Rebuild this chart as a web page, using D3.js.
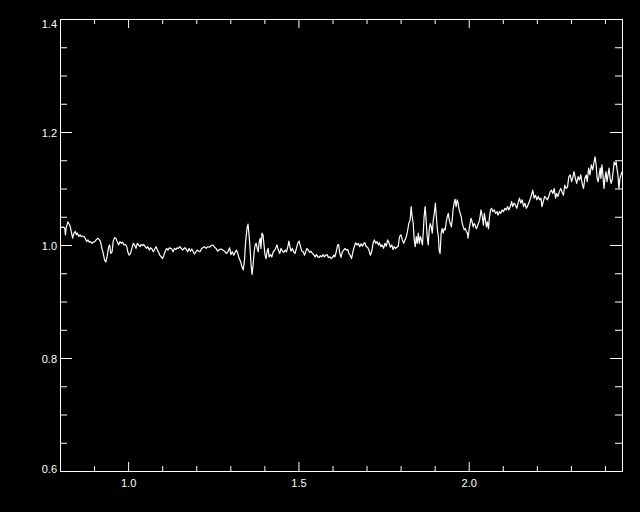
<!DOCTYPE html>
<html>
<head>
<meta charset="utf-8">
<script src="https://cdn.jsdelivr.net/npm/d3@7"></script>
<style>
  html, body { margin: 0; padding: 0; background: #000; }
  svg { display: block; background: #000; }
</style>
</head>
<body>
<svg id="svg" width="640" height="512"></svg>
<script>
// spectrum
const wavelength = [
  0.800, 0.804, 0.809, 0.814, 0.816, 0.818, 0.823, 0.829, 0.833, 0.837, 0.841, 0.845, 0.848, 0.851, 0.855, 0.859,
  0.862, 0.867, 0.870, 0.874, 0.878, 0.882, 0.886, 0.890, 0.894, 0.898, 0.902, 0.906, 0.911, 0.915, 0.919, 0.923,
  0.927, 0.931, 0.935, 0.939, 0.943, 0.946, 0.949, 0.953, 0.956, 0.960, 0.964, 0.968, 0.972, 0.976, 0.980, 0.984,
  0.988, 0.992, 0.996, 0.999, 1.003, 1.007, 1.011, 1.015, 1.019, 1.023, 1.027, 1.031, 1.035, 1.038, 1.043, 1.046,
  1.050, 1.054, 1.058, 1.062, 1.066, 1.070, 1.074, 1.078, 1.082, 1.086, 1.089, 1.093, 1.097, 1.101, 1.105, 1.109,
  1.113, 1.117, 1.121, 1.125, 1.128, 1.132, 1.136, 1.140, 1.144, 1.148, 1.152, 1.156, 1.160, 1.164, 1.168, 1.172,
  1.175, 1.179, 1.183, 1.187, 1.191, 1.195, 1.199, 1.203, 1.207, 1.211,
  1.215, 1.219, 1.224, 1.229, 1.234, 1.239, 1.244, 1.249, 1.254, 1.258, 1.263, 1.268, 1.273, 1.278, 1.283, 1.288,
  1.293, 1.298, 1.302, 1.306, 1.310, 1.314, 1.318, 1.322, 1.326, 1.330, 1.334, 1.338, 1.342, 1.345, 1.349, 1.352,
  1.355, 1.358, 1.361, 1.364, 1.367, 1.370, 1.373, 1.376, 1.379, 1.382, 1.385, 1.388, 1.390, 1.393, 1.396, 1.399,
  1.402, 1.405, 1.408, 1.411, 1.414, 1.418, 1.422, 1.426, 1.430, 1.433, 1.437, 1.441, 1.445, 1.449, 1.453, 1.457,
  1.461, 1.465, 1.469, 1.472, 1.475, 1.478, 1.482, 1.486, 1.490, 1.494, 1.498, 1.502, 1.506, 1.510, 1.514, 1.518,
  1.521, 1.525, 1.529, 1.533, 1.537, 1.541, 1.545, 1.549, 1.553, 1.557, 1.561, 1.564, 1.568, 1.572, 1.576, 1.580,
  1.584, 1.588, 1.592, 1.596, 1.600, 1.604, 1.607, 1.611, 1.615, 1.618, 1.621, 1.625,
  1.629, 1.633, 1.637, 1.641, 1.645, 1.648, 1.652, 1.656, 1.660, 1.664, 1.668, 1.672, 1.676, 1.680, 1.684, 1.688,
  1.692, 1.695, 1.699, 1.703, 1.707, 1.711, 1.715, 1.719, 1.723, 1.727, 1.731, 1.735, 1.738, 1.742, 1.746, 1.750,
  1.754, 1.758, 1.762, 1.766, 1.770, 1.774, 1.778, 1.781, 1.785, 1.789, 1.793, 1.797, 1.801, 1.805, 1.809, 1.813,
  1.817, 1.821, 1.824, 1.828, 1.831, 1.834, 1.837, 1.840, 1.843, 1.846, 1.849, 1.852, 1.855, 1.858, 1.861, 1.864,
  1.867, 1.869, 1.872, 1.875, 1.878, 1.881, 1.884, 1.887, 1.890, 1.893, 1.896, 1.899, 1.902, 1.905, 1.908, 1.911,
  1.913, 1.916, 1.919, 1.922, 1.925, 1.928, 1.931, 1.934, 1.937, 1.940, 1.943, 1.946, 1.949, 1.952, 1.954, 1.957,
  1.960, 1.963, 1.966, 1.969, 1.972, 1.975, 1.978, 1.981, 1.984, 1.987, 1.990, 1.993, 1.996, 1.998, 2.001, 2.004,
  2.007, 2.010, 2.013, 2.016, 2.019, 2.022, 2.025, 2.028, 2.032, 2.036,
  2.040, 2.043, 2.046, 2.049, 2.052, 2.055, 2.058, 2.061, 2.064, 2.067, 2.071, 2.075, 2.079, 2.083, 2.086, 2.090,
  2.094, 2.098, 2.102, 2.106, 2.110, 2.114, 2.118, 2.122, 2.126, 2.129, 2.133, 2.137, 2.141, 2.145, 2.149, 2.153,
  2.157, 2.161, 2.165, 2.169, 2.172, 2.176, 2.180, 2.184, 2.188, 2.192, 2.196, 2.200, 2.204, 2.208, 2.212, 2.215,
  2.219, 2.223, 2.227, 2.231, 2.235, 2.239, 2.243, 2.247, 2.251, 2.255, 2.258, 2.262, 2.266, 2.270, 2.274, 2.278,
  2.282, 2.286, 2.290, 2.294, 2.298, 2.302, 2.305, 2.309, 2.313, 2.317, 2.321, 2.325, 2.329, 2.333, 2.337, 2.341,
  2.345, 2.348, 2.352, 2.356, 2.360, 2.364, 2.368, 2.371, 2.374, 2.377, 2.380, 2.383, 2.386, 2.388, 2.391, 2.394,
  2.397, 2.400, 2.403, 2.406, 2.409, 2.412, 2.415, 2.418, 2.421, 2.424, 2.427, 2.430, 2.433, 2.435, 2.438, 2.441,
  2.444, 2.450
];

const flux = [
  1.032, 1.031, 1.032, 1.030, 1.018, 1.030, 1.041, 1.035, 1.024, 1.012, 1.021, 1.024, 1.018, 1.021, 1.015, 1.018,
  1.015, 1.016, 1.015, 1.012, 1.006, 1.009, 1.005, 1.006, 1.003, 1.005, 1.006, 1.009, 1.012, 1.010, 1.006, 0.994,
  0.985, 0.973, 0.970, 0.982, 0.997, 1.000, 0.985, 0.988, 1.006, 1.013, 1.012, 1.006, 1.000, 1.006, 1.003, 1.005,
  1.000, 1.001, 0.997, 0.988, 0.982, 0.985, 0.994, 1.003, 1.000, 0.994, 1.003, 1.000, 0.997, 1.001, 0.999, 1.001,
  0.997, 0.994, 0.997, 0.991, 0.995, 0.993, 0.988, 0.993, 0.997, 0.991, 0.988, 0.982, 0.979, 0.976, 0.982, 0.989,
  0.994, 0.991, 0.995, 0.994, 0.993, 0.988, 0.994, 0.992, 0.995, 0.994, 0.997, 0.994, 0.991, 0.994, 0.995, 0.991,
  0.988, 0.994, 0.989, 0.993, 0.988, 0.984, 0.988, 0.991, 0.989, 0.988,
  0.993, 0.995, 0.997, 0.994, 0.997, 0.996, 0.999, 1.000, 0.996, 0.994, 0.989, 0.992, 0.993, 0.991, 0.989, 0.985,
  0.988, 0.995, 0.983, 0.988, 0.982, 0.987, 0.991, 0.985, 0.976, 0.971, 0.962, 0.956, 0.976, 1.006, 1.029, 1.037,
  1.018, 0.994, 0.965, 0.948, 0.965, 0.988, 1.000, 1.003, 0.994, 0.988, 1.006, 1.012, 0.994, 1.021, 1.018, 1.000,
  0.982, 0.976, 0.988, 0.994, 0.979, 0.983, 0.979, 0.988, 0.991, 0.994, 1.000, 0.991, 0.985, 0.994, 0.989, 0.987,
  0.991, 0.988, 0.997, 1.007, 0.997, 0.989, 0.994, 0.988, 0.985, 0.994, 1.003, 1.007, 0.997, 0.989, 0.988, 0.982,
  0.987, 0.994, 0.991, 0.987, 0.989, 0.985, 0.983, 0.979, 0.983, 0.979, 0.978, 0.981, 0.979, 0.983, 0.979, 0.982,
  0.983, 0.978, 0.979, 0.976, 0.978, 0.982, 0.979, 0.988, 1.000, 1.001, 0.987, 0.978,
  0.988, 0.991, 0.994, 0.991, 0.992, 0.985, 0.982, 0.976, 0.988, 0.997, 1.004, 1.000, 1.003, 0.997, 1.002, 0.998,
  1.003, 1.004, 0.997, 0.996, 0.991, 0.982, 0.988, 1.003, 1.009, 1.003, 1.006, 1.000, 1.004, 0.997, 1.000, 0.994,
  1.003, 0.998, 1.009, 1.004, 0.996, 1.000, 0.992, 0.997, 0.994, 0.996, 0.998, 1.015, 1.018, 1.009, 1.003, 1.009,
  1.015, 1.027, 1.038, 1.044, 1.068, 1.050, 1.038, 1.009, 0.997, 1.015, 1.003, 1.021, 1.003, 1.015, 1.009, 1.000,
  1.027, 1.050, 1.068, 1.044, 1.015, 1.000, 1.027, 1.038, 1.032, 1.021, 1.044, 1.056, 1.074, 1.050, 1.027, 1.015,
  0.991, 0.985, 1.021, 1.029, 1.021, 1.029, 1.027, 1.041, 1.050, 1.056, 1.044, 1.038, 1.032, 1.047, 1.062, 1.074,
  1.081, 1.068, 1.080, 1.074, 1.062, 1.056, 1.050, 1.038, 1.032, 1.027, 1.029, 1.024, 1.021, 1.012, 1.027, 1.038,
  1.047, 1.041, 1.032, 1.038, 1.035, 1.029, 1.032, 1.038, 1.044, 1.062,
  1.050, 1.035, 1.056, 1.044, 1.032, 1.041, 1.029, 1.050, 1.062, 1.065, 1.059, 1.062, 1.056, 1.059, 1.053, 1.059,
  1.056, 1.062, 1.059, 1.065, 1.062, 1.068, 1.062, 1.068, 1.077, 1.068, 1.074, 1.071, 1.065, 1.074, 1.083, 1.074,
  1.080, 1.068, 1.074, 1.065, 1.068, 1.074, 1.080, 1.088, 1.097, 1.083, 1.088, 1.080, 1.086, 1.080, 1.083, 1.068,
  1.077, 1.086, 1.083, 1.080, 1.086, 1.094, 1.097, 1.091, 1.100, 1.083, 1.091, 1.086, 1.094, 1.100, 1.094, 1.088,
  1.106, 1.100, 1.103, 1.121, 1.124, 1.112, 1.118, 1.130, 1.118, 1.109, 1.121, 1.115, 1.124, 1.109, 1.100, 1.118,
  1.124, 1.112, 1.136, 1.124, 1.142, 1.133, 1.147, 1.156, 1.142, 1.118, 1.112, 1.124, 1.136, 1.118, 1.142, 1.124,
  1.100, 1.118, 1.130, 1.112, 1.124, 1.136, 1.118, 1.109, 1.115, 1.130, 1.147, 1.142, 1.147, 1.136, 1.124, 1.100,
  1.118, 1.130
];

const xMajorTicks = [1.0, 1.5, 2.0];
const xMinorTicks = [0.9, 1.1, 1.2, 1.3, 1.4, 1.6, 1.7, 1.8, 1.9, 2.1, 2.2, 2.3, 2.4];
const yMajorTicks = [0.6, 0.8, 1.0, 1.2, 1.4];
const yMinorTicks = [0.65, 0.7, 0.75, 0.85, 0.9, 0.95, 1.05, 1.1, 1.15, 1.25, 1.3, 1.35];

class spectrumPlot {
  constructor() {
    this.svg = d3.select("#svg");
    this.left = 60;
    this.right = 622;
    this.top = 19;
    this.bottom = 471;
    this.font = "'Liberation Sans', Arial, sans-serif";
  }

  buildAxes() {
    this.xScale = d3.scaleLinear().domain([0.8, 2.45]).range([this.left, this.right]);
    this.yScale = d3.scaleLinear().domain([0.6, 1.4]).range([this.bottom, this.top]);

    const fmt = d3.format(".1f");
    const noLabel = () => "";

    // bottom: labelled majors + minors
    this.addAxis(d3.axisBottom(this.xScale).tickValues(xMajorTicks).tickSizeInner(-9).tickPadding(8).tickFormat(fmt),
      `translate(0,${this.bottom})`);
    this.addAxis(d3.axisBottom(this.xScale).tickValues(xMinorTicks).tickSizeInner(-5).tickFormat(noLabel),
      `translate(0,${this.bottom})`);
    // top: ticks only
    this.addAxis(d3.axisTop(this.xScale).tickValues(xMajorTicks).tickSizeInner(-9).tickFormat(noLabel),
      `translate(0,${this.top})`);
    this.addAxis(d3.axisTop(this.xScale).tickValues(xMinorTicks).tickSizeInner(-5).tickFormat(noLabel),
      `translate(0,${this.top})`);

    // left: labelled majors + minors
    const yLab = this.addAxis(d3.axisLeft(this.yScale).tickValues(yMajorTicks).tickSizeInner(-12).tickPadding(3).tickFormat(fmt),
      `translate(${this.left},0)`);
    // end labels are nudged inside the frame like the original
    yLab.selectAll("text").attr("dy", d => (d === 1.4 ? 8 : d === 0.6 ? 1 : 4.5));
    this.addAxis(d3.axisLeft(this.yScale).tickValues(yMinorTicks).tickSizeInner(-7).tickFormat(noLabel),
      `translate(${this.left},0)`);
    // right: ticks only
    this.addAxis(d3.axisRight(this.yScale).tickValues(yMajorTicks).tickSizeInner(-12).tickFormat(noLabel),
      `translate(${this.right},0)`);
    this.addAxis(d3.axisRight(this.yScale).tickValues(yMinorTicks).tickSizeInner(-7).tickFormat(noLabel),
      `translate(${this.right},0)`);

    this.svg.append("rect")
      .attr("x", this.left + 0.5)
      .attr("y", this.top + 0.5)
      .attr("width", this.right - this.left)
      .attr("height", this.bottom - this.top)
      .attr("fill", "none")
      .attr("stroke", "#fff")
      .attr("stroke-width", 1);
  }

  addAxis(axis, transform) {
    const g = this.svg.append("g")
      .attr("transform", transform)
      .call(axis.tickSizeOuter(0));
    g.select(".domain").remove();
    g.selectAll("line").attr("stroke", "#fff");
    g.selectAll("text")
      .attr("fill", "#fff")
      .style("font-family", this.font)
      .style("font-size", "11px");
    return g;
  }

  draw() {
    this.buildAxes();
    const pts = wavelength.map((w, i) => [w, flux[i]]);
    const line = d3.line()
      .x(d => this.xScale(d[0]))
      .y(d => this.yScale(d[1]));
    this.svg.append("path")
      .datum(pts)
      .attr("d", line)
      .attr("fill", "none")
      .attr("stroke", "#fff")
      .attr("stroke-width", 1.2)
      .attr("stroke-linejoin", "round");
  }
}

new spectrumPlot().draw();
</script>
</body>
</html>
